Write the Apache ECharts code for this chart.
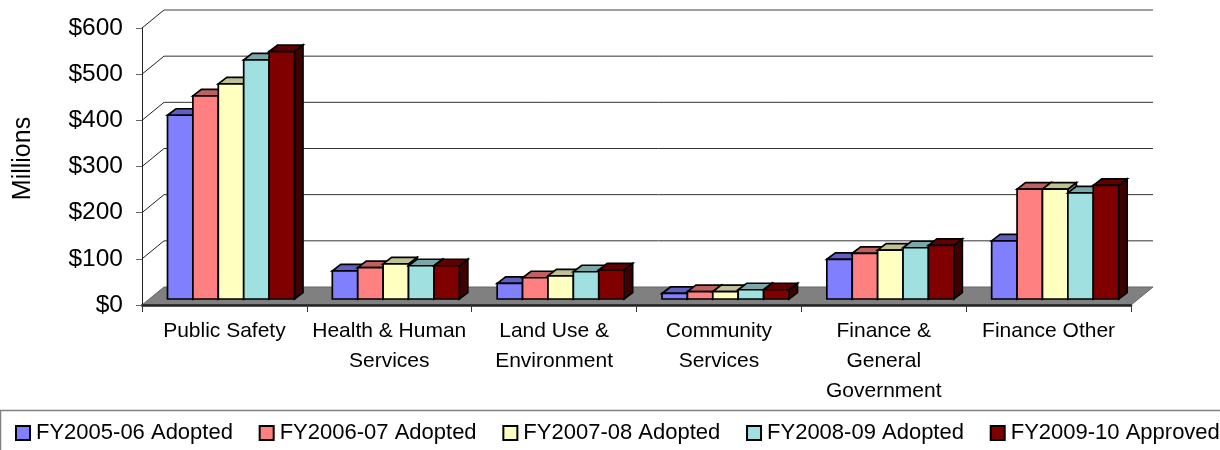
<!DOCTYPE html>
<html>
<head>
<meta charset="utf-8">
<style>html,body{margin:0;padding:0;background:#fff;overflow:hidden}#c{width:1220px;height:450px}</style>
<script src="https://cdn.jsdelivr.net/npm/echarts@6/dist/echarts.min.js"></script>
</head>
<body>
<div id="c"></div>
<script>
const categories = ['Public Safety','Health & Human\nServices','Land Use &\nEnvironment','Community\nServices','Finance &\nGeneral\nGovernment','Finance Other'];
const seriesNames = ['FY2005-06 Adopted','FY2006-07 Adopted','FY2007-08 Adopted','FY2008-09 Adopted','FY2009-10 Approved'];
const fy0506 = [398, 61, 34, 12, 86, 126];
const fy0607 = [440, 68, 46, 16, 99, 238];
const fy0708 = [466, 76, 50, 16, 106, 238];
const fy0809 = [518, 72, 59, 20, 111, 230];
const fy0910 = [536, 72, 63, 20, 116, 246];
const yTicks = [0,100,200,300,400,500,600];
const seriesValues = [fy0506, fy0607, fy0708, fy0809, fy0910];
const frontColors = ['#8080FF','#FF8080','#FFFFC0','#A0E0E0','#800000'];
const topColors   = ['#6060C0','#C06060','#C0C090','#78A8A8','#600000'];
const sideColors  = ['#404080','#804040','#808060','#507070','#400000'];

const WALL_DX = 22, WALL_DY = -18;
const BAR_DX = 8.5, BAR_DY = -6.5, BAR_FRONT_DY = -6, BAR_INSET = 25.5, BAR_W = 25.4;
const FONT = '"Liberation Sans", Arial, sans-serif';

function barRender(si){
  return function(params, api){
    const v = api.value(1);
    const p = api.coord([api.value(0), v]);
    const base = api.coord([api.value(0), 0]);
    const band = api.size([1,0])[0];
    const x0 = p[0] - band/2 + BAR_INSET + si*BAR_W;
    const x1 = x0 + BAR_W;
    const yT = p[1] + BAR_FRONT_DY;
    const yB = base[1] + BAR_FRONT_DY;
    const line = {stroke:'#000', lineWidth:1.7, lineJoin:'miter'};
    return {type:'group', children:[
      {type:'polygon', shape:{points:[[x1,yT],[x1+BAR_DX,yT+BAR_DY],[x1+BAR_DX,yB+BAR_DY],[x1,yB]]},
        style:Object.assign({fill:sideColors[si]},line)},
      {type:'polygon', shape:{points:[[x0,yT],[x0+BAR_DX,yT+BAR_DY],[x1+BAR_DX,yT+BAR_DY],[x1,yT]]},
        style:Object.assign({fill:topColors[si]},line)},
      {type:'rect', shape:{x:x0,y:yT,width:BAR_W,height:yB-yT},
        style:Object.assign({fill:frontColors[si]},line)}
    ]};
  };
}

const wallSeries = {
  type:'custom', z:-1, silent:true, legendHoverLink:false,
  data: yTicks.map(t=>[0,t]), encode:{x:0,y:1},
  renderItem:function(params, api){
    const t = api.value(1);
    const cs = params.coordSys;
    const y = api.coord([0,t])[1];
    const xL = cs.x, xR = cs.x+cs.width;
    if(t===0){
      return {type:'polygon', shape:{points:[[xL,y],[xL+WALL_DX,y+WALL_DY],[xR+WALL_DX,y+WALL_DY],[xR,y]]},
        style:{fill:'#808080',stroke:'#666',lineWidth:1}};
    }
    return {type:'group', children:[
      {type:'line', shape:{x1:xL+WALL_DX,y1:y+WALL_DY,x2:xR+WALL_DX,y2:y+WALL_DY},style:{stroke:t===600?'#808080':'#333',lineWidth:t===600?1.5:1}},
      {type:'line', shape:{x1:xL,y1:y,x2:xL+WALL_DX,y2:y+WALL_DY},style:{stroke:'#222',lineWidth:1}}
    ]};
  }
};

const barSeries = seriesNames.map((name,si)=>({
  name, type:'custom', z:2, silent:true,
  itemStyle:{color:frontColors[si]},
  encode:{x:0,y:1},
  data: seriesValues[si].map((v,i)=>[i,v]),
  renderItem: barRender(si)
}));

const chart = echarts.init(document.getElementById('c'),null,{renderer:'canvas'});
chart.setOption({
  animation:false,
  backgroundColor:'#fff',
  textStyle:{fontFamily:FONT},
  grid:{left:142,top:28,width:989,height:277,containLabel:false},
  xAxis:{type:'category',data:categories,boundaryGap:true,z:3,
    axisLine:{show:true,onZero:false,lineStyle:{color:'#222',width:2.5}},
    axisTick:{show:true,length:7,lineStyle:{color:'#333',width:1}},
    axisLabel:{interval:0,fontFamily:FONT,fontSize:21,color:'#000',lineHeight:30,margin:11}},
  yAxis:{type:'value',min:0,max:600,interval:100,z:3,
    name:'Millions',nameLocation:'middle',nameRotate:90,nameGap:106,
    nameTextStyle:{fontFamily:FONT,fontSize:25,color:'#000',padding:[0,0,0,16]},
    axisLine:{show:true,lineStyle:{color:'#222',width:1}},
    axisTick:{show:true,length:6,lineStyle:{color:'#666',width:1}},
    splitLine:{show:false},
    axisLabel:{fontFamily:FONT,fontSize:24.5,color:'#000',margin:19,formatter:v=>'$'+v}},
  legend:{left:15,top:422,padding:0,itemWidth:14,itemHeight:14,itemGap:25.75,
    data:seriesNames,icon:'rect',selectedMode:false,
    itemStyle:{borderColor:'#000',borderWidth:2},
    textStyle:{fontFamily:FONT,fontSize:22,color:'#000',padding:[0,0,0,1]}},
  graphic:[{type:'rect',silent:true,z:-5,shape:{x:0.5,y:410.5,width:1300,height:80},
    style:{fill:'#fff',stroke:'#808080',lineWidth:1.5}}],
  series:[wallSeries].concat(barSeries)
});
</script>
</body>
</html>
